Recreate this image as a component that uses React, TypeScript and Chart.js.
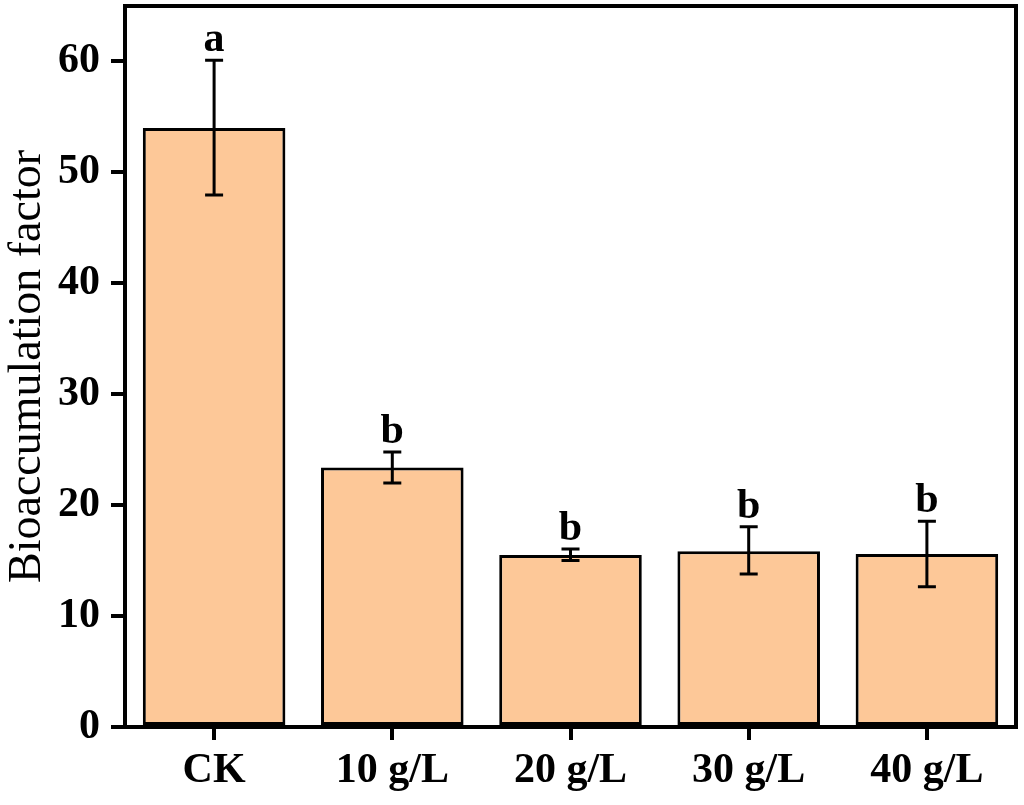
import React, { useEffect, useRef } from "react";
import { Chart, registerables } from "chart.js";

Chart.register(...registerables);

const categories = ["CK", "10 g/L", "20 g/L", "30 g/L", "40 g/L"];
const means = [54.0, 23.4, 15.5, 15.85, 15.6];
const errHigh = [60.1, 24.8, 16.05, 18.05, 18.55];
const errLow = [47.95, 22.0, 15.0, 13.8, 12.65];
const letters = ["a", "b", "b", "b", "b"];
const yTicks = [0, 10, 20, 30, 40, 50, 60];

const BAR_COLOR = "#FDC898";
const FONT = "'Liberation Serif', 'Times New Roman', serif";

const extrasPlugin = {
  id: "extras",
  afterDatasetsDraw(chart: any) {
    const { ctx, chartArea, scales } = chart;
    const x = scales.x;
    const y = scales.y;
    ctx.save();
    ctx.strokeStyle = "#000";
    ctx.fillStyle = "#000";
    ctx.lineWidth = 3;
    for (let i = 0; i < categories.length; i++) {
      const cx = x.getPixelForValue(i);
      const yt = y.getPixelForValue(errHigh[i]);
      const yb = y.getPixelForValue(errLow[i]);
      ctx.beginPath();
      ctx.moveTo(cx, yt);
      ctx.lineTo(cx, yb);
      ctx.moveTo(cx - 9, yt);
      ctx.lineTo(cx + 9, yt);
      ctx.moveTo(cx - 9, yb);
      ctx.lineTo(cx + 9, yb);
      ctx.stroke();
      ctx.font = `bold 42px ${FONT}`;
      ctx.textAlign = "center";
      ctx.textBaseline = "alphabetic";
      ctx.fillText(letters[i], cx, yt - 9);
    }
    // frame
    ctx.lineWidth = 4;
    ctx.strokeRect(
      chartArea.left,
      chartArea.top,
      chartArea.right - chartArea.left,
      chartArea.bottom - chartArea.top
    );
    ctx.restore();
  },
};

export default function App() {
  const ref = useRef<HTMLCanvasElement>(null);
  useEffect(() => {
    if (!ref.current) return;
    const chart = new Chart(ref.current, {
      type: "bar",
      data: {
        labels: categories,
        datasets: [
          {
            data: means,
            backgroundColor: BAR_COLOR,
            borderColor: "#000",
            borderWidth: 3,
            borderSkipped: false,
            barPercentage: 0.8,
            categoryPercentage: 1.0,
          },
        ],
      },
      options: {
        animation: false,
        responsive: false,
        maintainAspectRatio: false,
        layout: { padding: { left: 0, right: 8, top: 6, bottom: 0 } },
        plugins: {
          legend: { display: false },
          tooltip: { enabled: false },
        },
        scales: {
          x: {
            grid: {
              display: true,
              drawOnChartArea: false,
              drawTicks: true,
              tickLength: 13,
              lineWidth: 4,
              color: "#000",
              offset: false,
            },
            border: { display: true, width: 4, color: "#000" },
            ticks: {
              color: "#000",
              font: { family: FONT, size: 42, weight: "bold" },
              padding: 6,
              maxRotation: 0,
            },
            afterFit(scale: any) {
              scale.height = 78;
              scale.paddingLeft = 0;
              scale.paddingRight = 0;
            },
          },
          y: {
            min: 0,
            max: 65,
            grid: {
              display: true,
              drawOnChartArea: false,
              drawTicks: true,
              tickLength: 14,
              lineWidth: 4,
              color: "#000",
            },
            border: { display: true, width: 4, color: "#000" },
            ticks: {
              stepSize: 10,
              color: "#000",
              font: { family: FONT, size: 42, weight: "bold" },
              padding: 11,
            },
            afterBuildTicks(scale: any) {
              scale.ticks = yTicks.map((v) => ({ value: v }));
            },
            title: {
              display: true,
              text: "Bioaccumulation factor",
              color: "#000",
              font: { family: FONT, size: 46, weight: "normal" },
              padding: { top: 0, bottom: 0 },
            },
            afterFit(scale: any) {
              scale.width = 125;
              scale.paddingTop = 0;
              scale.paddingBottom = 0;
            },
          },
        },
      },
      plugins: [extrasPlugin],
    });
    return () => chart.destroy();
  }, []);
  return (
    <div style={{ position: "absolute", left: 0, top: 0, width: 1024, height: 805 }}>
      <canvas ref={ref} width={1024} height={805} style={{ width: 1024, height: 805 }} />
    </div>
  );
}
